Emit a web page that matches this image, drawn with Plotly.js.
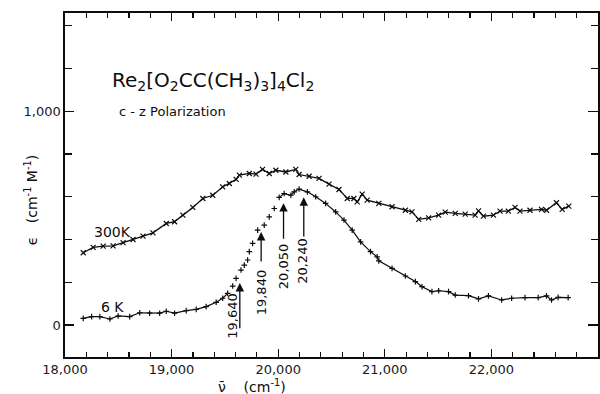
<!DOCTYPE html>
<html>
<head>
<meta charset="utf-8">
<script src="https://cdn.plot.ly/plotly-3.0.1.min.js"></script>
<style>html,body{margin:0;padding:0;background:#fff;}#chart{width:600px;height:394px;}</style>
</head>
<body>
<div id="chart"></div>
<script>
// 300 K spectrum (wavenumber cm^-1, epsilon)
const wn300 = [18171,18264,18358,18451,18545,18638,18732,18825,18950,19028,19106,19199,19293,19386,19479,19542,19605,19636,19729,19792,19853,19916,19978,20072,20165,20196,20290,20383,20477,20570,20648,20710,20741,20788,20835,20944,21068,21193,21255,21318,21411,21505,21567,21661,21754,21847,21879,21925,22019,22081,22159,22222,22268,22362,22470,22517,22610,22664,22726];
const eps300 = [338,363,369,370,385,400,416,431,475,483,514,550,592,607,646,662,681,701,709,706,728,709,724,716,728,704,696,686,659,634,592,592,576,612,584,569,553,537,529,494,501,514,528,522,519,514,534,509,514,533,533,550,533,537,541,537,572,541,556];
// 6 K spectrum
const wn6 = [18171,18250,18327,18421,18498,18607,18701,18794,18888,18950,19028,19137,19231,19324,19418,19479,19526,19573,19605,19651,19682,19713,19729,19760,19807,19869,19916,19963,20009,20056,20119,20150,20196,20274,20352,20445,20539,20617,20694,20773,20866,20928,20944,21068,21193,21287,21349,21442,21505,21598,21661,21785,21879,21972,22096,22190,22315,22439,22517,22564,22626,22720];
const eps6 = [31,39,39,28,42,39,57,55,55,64,55,67,73,86,106,125,148,182,218,257,280,304,343,382,444,467,506,545,597,615,607,623,636,623,600,569,529,491,444,389,343,319,300,265,229,203,179,156,160,156,140,137,122,136,117,125,128,128,136,117,129,128];
// marked band positions
const peakWn = [19640,19840,20050,20240];
const peakLabels = ['19,640','19,840','20,050','20,240'];
const seriesLabels = ['300K','6 K'];

const ink = '#0d0d0d';
const font = 'DejaVu Sans, sans-serif';

// in the steep rise of the 6 K trace only the point marks are drawn (no joining line)
const steepFrom = 19560, steepTo = 20000;
const eps6Line = eps6.map((v, i) => (wn6[i] > steepFrom && wn6[i] < steepTo) ? null : v);

const xRange = [18000, 23000], yRange = [-150, 1460];

const traces = [
  {x: wn300, y: eps300, mode: 'lines+markers', line: {color: ink, width: 1.3},
   marker: {symbol: 'x-thin', size: 5, line: {color: ink, width: 1.2}}, hoverinfo: 'skip'},
  {x: wn6, y: eps6Line, mode: 'lines', connectgaps: false, line: {color: ink, width: 1.2}, hoverinfo: 'skip'},
  {x: wn6, y: eps6, mode: 'markers',
   marker: {symbol: 'cross-thin', size: 4, line: {color: ink, width: 1.2}}, hoverinfo: 'skip'},
  // invisible trace that carries the mirrored (top / right) tick axes
  {x: [xRange[0]], y: [0], xaxis: 'x2', yaxis: 'y2', mode: 'markers', marker: {opacity: 0, size: 1}, hoverinfo: 'skip'}
];

// arrow geometry (tip, tail) and label placement in data units
const arrowTip = [196, 435, 570, 598];
const arrowTail = [-23, 290, 397, 407];
const labelX = [19570, 19841, 20056, 20221];
const labelY = [45, 154, 276, 299];

const annotations = [
  {xref: 'x', yref: 'y', x: 18420, y: 1140, showarrow: false, xanchor: 'left',
   text: 'Re<sub>2</sub>[O<sub>2</sub>CC(CH<sub>3</sub>)<sub>3</sub>]<sub>4</sub>Cl<sub>2</sub>',
   font: {family: font, size: 20, color: ink}},
  {xref: 'x', yref: 'y', x: 18490, y: 1000, showarrow: false, xanchor: 'left',
   text: 'c - z Polarization', font: {family: font, size: 13, color: ink}},
  {xref: 'x', yref: 'y', x: 18250, y: 435, showarrow: false, xanchor: 'left',
   text: seriesLabels[0], font: {family: font, size: 14, color: ink}},
  {xref: 'x', yref: 'y', x: 18320, y: 82, showarrow: false, xanchor: 'left',
   text: seriesLabels[1], font: {family: font, size: 14, color: ink}},
  {xref: 'paper', yref: 'paper', x: -0.084, y: 0.32, showarrow: false, textangle: -90,
   text: 'ϵ   (cm<sup>-1</sup> M<sup>-1</sup>)', font: {family: font, size: 14, color: ink}},
  {xref: 'paper', yref: 'paper', x: 0.35, y: -0.085, showarrow: false, yanchor: 'middle',
   text: 'ν̄    (cm<sup>-1</sup>)', font: {family: font, size: 14, color: ink}}
];
peakWn.forEach((w, i) => {
  annotations.push({xref: 'x', yref: 'y', axref: 'x', ayref: 'y', x: w, y: arrowTip[i], ax: w, ay: arrowTail[i],
    text: '', showarrow: true, arrowhead: 2, arrowsize: 1.3, arrowwidth: 1.3, arrowcolor: ink});
  annotations.push({xref: 'x', yref: 'y', x: labelX[i], y: labelY[i], text: peakLabels[i], showarrow: false,
    textangle: -90, font: {family: font, size: 13, color: ink}});
});

const tickBase = {
  ticks: 'inside', tickcolor: ink, tickwidth: 1.3, showgrid: false, zeroline: false,
  tickfont: {family: font, size: 13, color: '#1a1a1a'}
};
const xMinor = {dtick: 200, tick0: 18000, ticks: 'inside', ticklen: 5, tickcolor: ink, tickwidth: 1.2, showgrid: false};
const yMinor = {tickvals: [200, 400, 600, 800, 1200, 1400], ticks: 'inside', ticklen: 7, tickcolor: ink, tickwidth: 1.2, showgrid: false};

const layout = {
  width: 600, height: 394,
  margin: {l: 65, r: 2, t: 13, b: 37},
  paper_bgcolor: '#fff', plot_bgcolor: '#fff', showlegend: false,
  xaxis: Object.assign({}, tickBase, {range: xRange, tick0: 18000, dtick: 1000, tickformat: ',', ticklen: 8,
    showline: true, linecolor: ink, linewidth: 1.6, mirror: true, minor: xMinor}),
  yaxis: Object.assign({}, tickBase, {range: yRange, tickvals: [0, 1000], ticktext: ['0', '1,000'], ticklen: 9,
    showline: true, linecolor: ink, linewidth: 1.6, mirror: true, minor: yMinor}),
  xaxis2: Object.assign({}, tickBase, {overlaying: 'x', side: 'top', anchor: 'y2', range: xRange, tick0: 18000, dtick: 1000,
    ticklen: 8, showticklabels: false, showline: false, minor: xMinor}),
  yaxis2: Object.assign({}, tickBase, {overlaying: 'y', side: 'right', anchor: 'x2', range: yRange, tickvals: [0, 1000],
    ticklen: 10, showticklabels: false, showline: false, minor: yMinor}),
  annotations: annotations
};

Plotly.newPlot('chart', traces, layout, {staticPlot: true, displayModeBar: false});
</script>
</body>
</html>
